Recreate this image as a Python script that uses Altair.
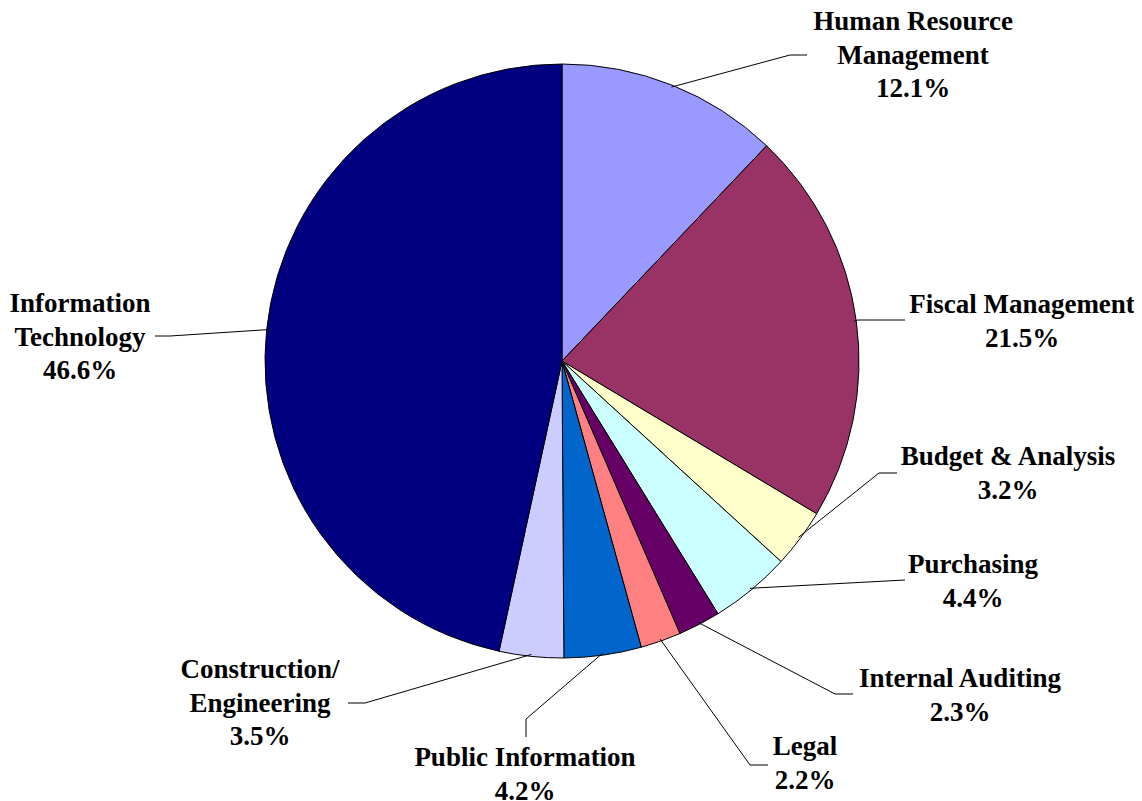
import altair as alt
import pandas as pd
import numpy as np

# ---- data ----
categories = ["Human Resource Management", "Fiscal Management", "Budget & Analysis",
              "Purchasing", "Internal Auditing", "Legal", "Public Information",
              "Construction/ Engineering", "Information Technology"]
shares = [12.1, 21.5, 3.2, 4.4, 2.3, 2.2, 4.2, 3.5, 46.6]
label_lines = ["Human Resource\nManagement", "Fiscal Management", "Budget & Analysis",
               "Purchasing", "Internal Auditing", "Legal", "Public Information",
               "Construction/\nEngineering", "Information\nTechnology"]
colors = ["#9999FF", "#993366", "#FFFFCC", "#CCFFFF", "#660066", "#FF8080",
          "#0066CC", "#CCCCFF", "#000080"]

# ---- layout (chart coordinates, origin top-left of the chart area) ----
W, H = 1126, 793
DY = -6
CX, CY, R = 554, 350 + DY, 297
# label first-line centre (x, y) and leader-line elbow / end (x, y)
label_pos = [(905, 11), (1014, 294), (1000, 446), (965, 554), (952, 668),
             (797, 736), (517, 747), (252, 659), (72, 293)]
elbows = [(782, 44), (850, 309), (871, 462), (897, 569), (827, 683),
          (742, 754), (518, 708), (357, 692), (162, 325)]
ends = [(799, 44), (897, 309), (889, 462), (897, 569), (845, 683),
        (760, 754), (518, 726), (340, 692), (147, 325)]
label_pos = [(x, y + DY) for x, y in label_pos]
elbows = [(x, y + DY) for x, y in elbows]
ends = [(x, y + DY) for x, y in ends]

df = pd.DataFrame({"cat": categories, "share": shares, "idx": range(len(shares)),
                   "label": [f"{l}\n{s:.1f}%" for l, s in zip(label_lines, shares)],
                   "lx": [p[0] for p in label_pos], "ly": [p[1] for p in label_pos]})

# leader lines: start on the pie edge at the slice mid angle
cum = np.cumsum([0] + shares)
rows = []
for i, c in enumerate(categories):
    mid = (cum[i] + shares[i] / 2) / 100 * 2 * np.pi
    sx = CX + (R - 2) * np.sin(mid)
    sy = CY - (R - 2) * np.cos(mid)
    for k, (px, py) in enumerate([(sx, sy), elbows[i], ends[i]]):
        rows.append({"cat": c, "k": k, "x": px, "y": py})
lines_df = pd.DataFrame(rows)

xs = alt.Scale(domain=[0, W], range=[0, W])
ys = alt.Scale(domain=[0, H], range=[0, H])

pie = alt.Chart(df).mark_arc(outerRadius=R, stroke="black", strokeWidth=1).encode(
    theta=alt.Theta("share:Q", stack=True),
    order=alt.Order("idx:Q"),
    color=alt.Color("cat:N", scale=alt.Scale(domain=categories, range=colors), legend=None),
    x=alt.value(CX), y=alt.value(CY),
)

leaders = alt.Chart(lines_df).mark_line(color="black", strokeWidth=1).encode(
    x=alt.X("x:Q", scale=xs, axis=None),
    y=alt.Y("y:Q", scale=ys, axis=None),
    detail="cat:N",
    order="k:Q",
)

labels = alt.Chart(df).mark_text(
    font="Liberation Serif", fontWeight="bold", fontSize=27, lineBreak="\n",
    lineHeight=33.5, align="center", baseline="middle", color="black"
).encode(
    x=alt.X("lx:Q", scale=xs, axis=None),
    y=alt.Y("ly:Q", scale=ys, axis=None),
    text="label:N",
)

chart = alt.layer(pie, leaders, labels).resolve_scale(theta="independent").properties(
    width=W, height=H, padding=0,
    autosize=alt.AutoSizeParams(type="fit", contains="padding"),
    background="white",
).configure_view(stroke=None)

chart.save("out.html", embed_options={"renderer": "svg", "actions": False})
